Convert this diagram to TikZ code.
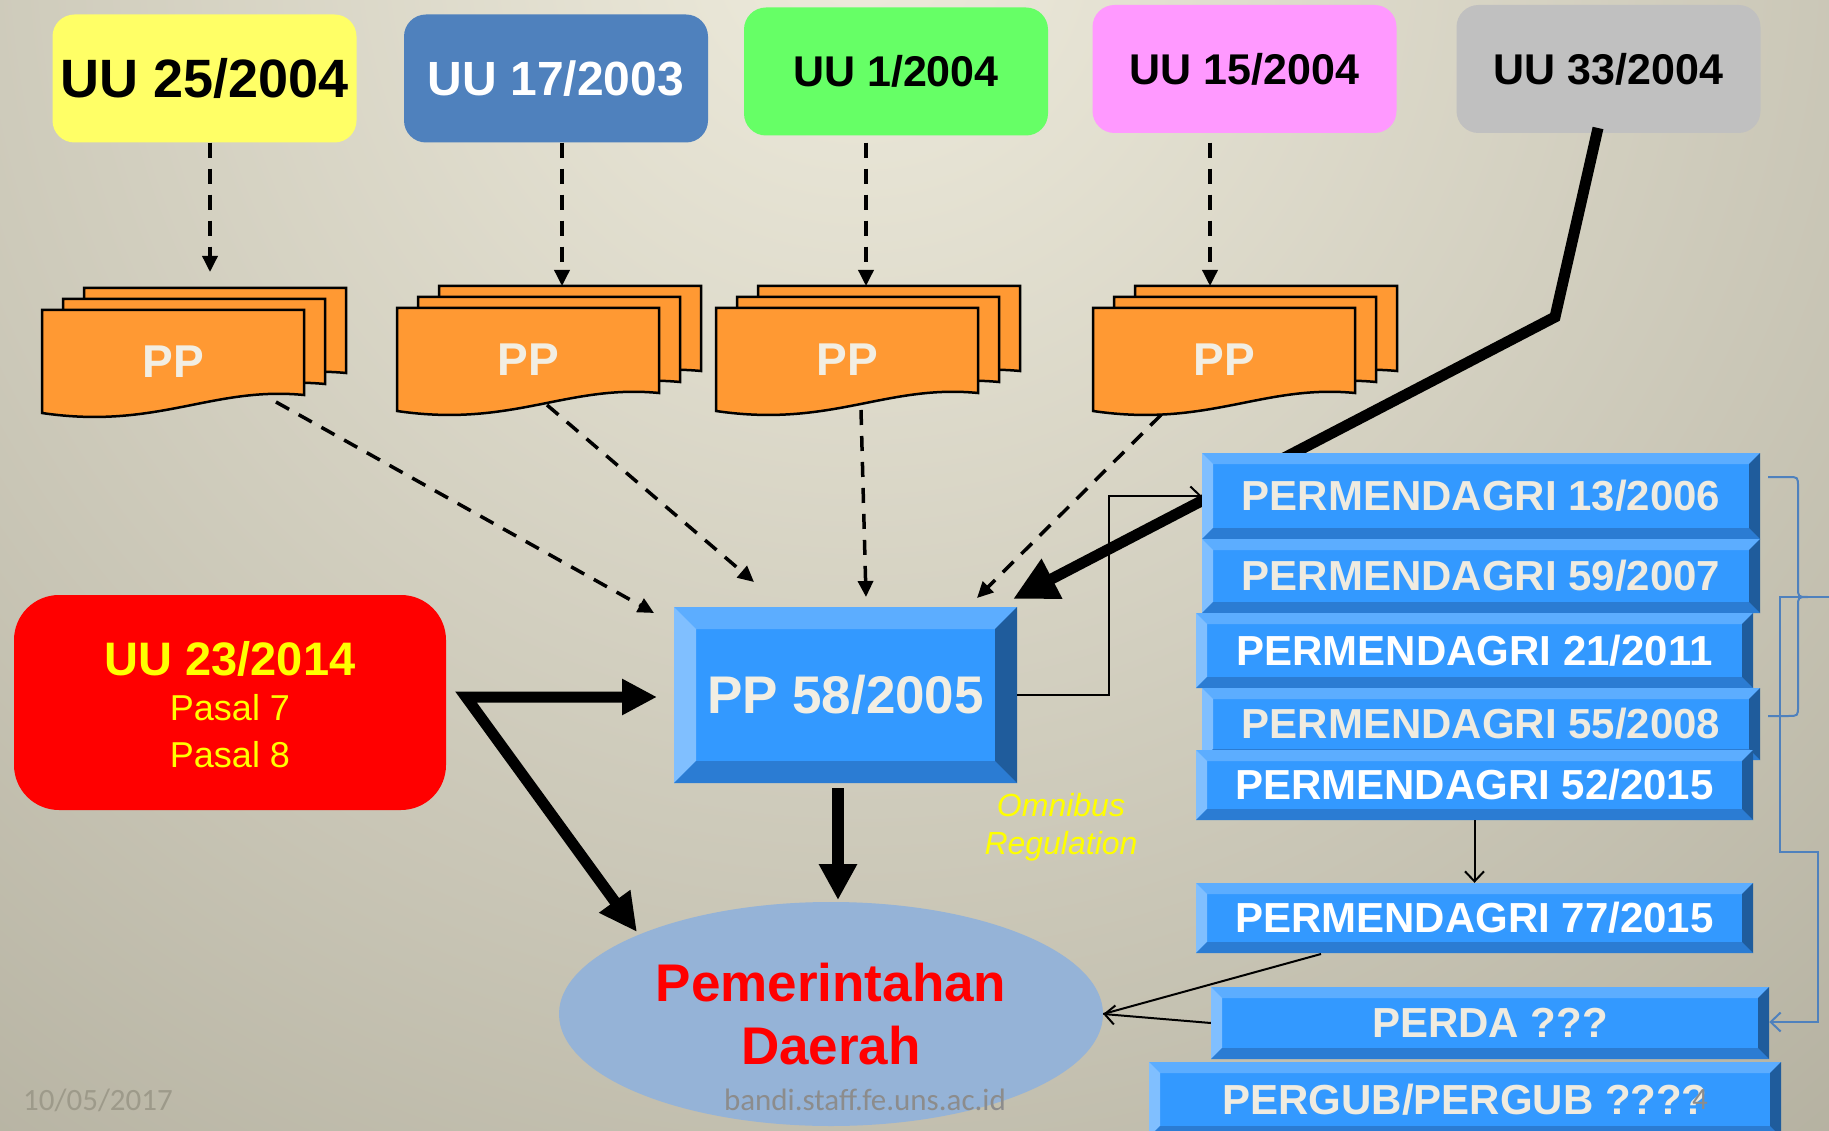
\documentclass[tikz,border=0pt]{standalone}
\usepackage{fontspec}
\setmainfont{Liberation Sans}
\newfontfamily\calib{Carlito}
\usetikzlibrary{arrows.meta,shapes.geometric}
\definecolor{bgL}{HTML}{EEEBDC}
\definecolor{bgD}{HTML}{807C6A}
\definecolor{cYel}{HTML}{FFFF66}
\definecolor{cBlu}{HTML}{4F81BD}
\definecolor{cGrn}{HTML}{66FF66}
\definecolor{cPnk}{HTML}{FF99FF}
\definecolor{cGry}{HTML}{C0C0C0}
\definecolor{cOrg}{HTML}{FF9933}
\definecolor{ppW}{HTML}{F2EEE3}
\definecolor{bvFace}{HTML}{3399FF}
\definecolor{bvTop}{HTML}{5CADFF}
\definecolor{bvLeft}{HTML}{80BFFF}
\definecolor{bvBot}{HTML}{2B7CD3}
\definecolor{bvRight}{HTML}{1F5C9C}
\definecolor{cEll}{HTML}{95B3D7}
\definecolor{cream}{HTML}{EFEBE0}
\definecolor{brk}{HTML}{4F81BD}
\definecolor{dateC}{HTML}{9D9A8A}
\definecolor{urlC}{HTML}{8C8C8C}
\definecolor{yel}{HTML}{FFFF00}
\definecolor{rd}{HTML}{FF0000}
\newcommand{\fsz}[1]{\fontsize{#1}{#1}\selectfont}
\newcommand{\ppstack}[3]{%
  \foreach \dx/\dy in {42/22,21/11,0/0}{%
    \path[docshape] (#2+\dx,#3-\dy) -- (#2+\dx+262,#3-\dy) -- (#2+\dx+262,#3-\dy+85)
      .. controls (#2+\dx+170,#3-\dy+76) and (#2+\dx+115,#3-\dy+120) .. (#2+\dx,#3-\dy+103) -- cycle;
  }%
  \node[pptext] (#1) at (#2+131,#3+52) {PP};
}
\newcommand{\bevbox}[8]{%
  \fill[bvFace] (#2,#3) rectangle (#4,#5);
  \fill[bvTop] (#2,#3) -- (#4,#3) -- (#4-#6,#3+#6) -- (#2+#6,#3+#6) -- cycle;
  \fill[bvLeft] (#2,#3) -- (#2+#6,#3+#6) -- (#2+#6,#5-#6) -- (#2,#5) -- cycle;
  \fill[bvBot] (#2,#5) -- (#2+#6,#5-#6) -- (#4-#6,#5-#6) -- (#4,#5) -- cycle;
  \fill[bvRight] (#4,#3) -- (#4,#5) -- (#4-#6,#5-#6) -- (#4-#6,#3+#6) -- cycle;
  \node[inner sep=0pt, text=#7, minimum width=#4pt-#2pt, minimum height=#5pt-#3pt] (#1) at ({(#2+#4)/2},{(#3+#5)/2}) {#8};
}
\begin{document}
\begin{tikzpicture}[x=1pt,y=-1pt,
  uubox/.style={rounded corners=22pt, minimum width=304pt, minimum height=128pt, inner sep=0pt},
  docshape/.style={fill=cOrg, draw=black, line width=2.5pt, line join=miter},
  pptext/.style={font=\fsz{46}\bfseries, text=ppW, inner sep=0pt},
  dasharr/.style={line width=3.5pt, dash pattern=on 15pt off 11pt, -{Triangle[length=16pt,width=15pt]}},
  bigarr/.style={line width=11pt, line join=miter, -{Triangle[length=36pt,width=36pt]}},
  thinarr/.style={line width=2pt, -{Straight Barb[length=10pt,width=19pt]}},
  lawtext/.style={font=\fsz{42}\bfseries}
]
\useasboundingbox (0,0) rectangle (1829,1131);
\begin{scope}
\clip (0,0) rectangle (1829,1131);
\shade[inner color=bgL, outer color=bgD] (860,-60) circle (3000pt);
\end{scope}

% top law boxes
\node[uubox, fill=cYel, text=black, font=\fsz{54}\bfseries] (uuA) at (204.5,78.5) {UU 25/2004};
\node[uubox, fill=cBlu, text=white, font=\fsz{48}\bfseries] (uuB) at (556,78.5) {UU 17/2003};
\node[uubox, fill=cGrn, text=black, font=\fsz{43}\bfseries] (uuC) at (896,71.5) {UU 1/2004};
\node[uubox, fill=cPnk, text=black, font=\fsz{43}\bfseries] (uuD) at (1244.5,69) {UU 15/2004};
\node[uubox, fill=cGry, text=black, font=\fsz{43}\bfseries] (uuE) at (1608.5,69) {UU 33/2004};

% PP stacks
\ppstack{ppA}{42}{310}
\ppstack{ppB}{397}{308}
\ppstack{ppC}{716}{308}
\ppstack{ppD}{1093}{308}

% arrow targets / sources
\coordinate (aA) at (210,272);
\coordinate (aB) at (562,286);
\coordinate (aC) at (866,286);
\coordinate (aD) at (1210,286);
\coordinate (oA) at (276,402);
\coordinate (oB) at (547,405);
\coordinate (oC) at (861,410);
\coordinate (oD) at (1161,415);
\coordinate (tA) at (654,613);
\coordinate (tB) at (754,582);
\coordinate (tC) at (866,597);
\coordinate (tD) at (977,598);

\draw[dasharr] (aA |- uuA.south) -- (aA);
\draw[dasharr] (aB |- uuB.south) -- (aB);
\draw[dasharr] (aC |- uuB.south) -- (aC);
\draw[dasharr] (aD |- uuB.south) -- (aD);
\draw[dasharr] (oA) -- (tA);
\draw[dasharr] (oB) -- (tB);
\draw[dasharr] (oC) -- (tC);
\draw[dasharr] (oD) -- (tD);

% red box
\node[rounded corners=45pt, fill=rd, minimum width=432pt, minimum height=215pt, inner sep=0pt] (uu23) at (230,702.5) {};
\node[font=\fsz{47}\bfseries, text=yel, inner sep=0pt] (t23) at (230,659) {UU 23/2014};
\node[font=\fsz{36}, text=yel, inner sep=0pt] (p7) at (230,708) {Pasal 7};
\node[font=\fsz{36}, text=yel, inner sep=0pt] (p8) at (230,755) {Pasal 8};

% PP 58/2005
\bevbox{pp58}{674}{607}{1017}{783}{22}{ppW}{\fsz{53}\bfseries PP 58/2005}

% ellipse
\node[ellipse, fill=cEll, minimum width=544pt, minimum height=224pt, inner sep=0pt, text=rd, align=center, font=\fontsize{53}{63}\selectfont\bfseries] (pd) at (831,1014) {Pemerintahan\\Daerah};

% thick arrows
\coordinate (fork) at (466,697);
\coordinate (tipH) at (657,697);
\coordinate (tipD) at (637,932);
\draw[line width=11pt, line join=miter, {Triangle[length=35pt,width=34pt]}-{Triangle[length=38pt,width=36pt]}] (tipH) -- (fork) -- (tipD);
\coordinate (tipV) at (838,900);
\draw[bigarr, line width=12pt, -{Triangle[length=36pt,width=36pt]}] (tipV |- pp58.south) ++(0,5) -- (tipV);

% UU 33 line
\coordinate (e33) at (1598,128);
\coordinate (k33) at (1555,317);
\coordinate (t33) at (1013,599);
\draw[line width=11pt, line join=miter, -{Triangle[length=44pt,width=42pt]}] (e33) -- (k33) -- (t33);

% permendagri boxes
\bevbox{pm13}{1202}{453}{1760}{539}{11}{cream}{\fsz{42}\bfseries PERMENDAGRI 13/2006}
\bevbox{pm59}{1202}{539}{1760}{613}{11}{cream}{\fsz{42}\bfseries PERMENDAGRI 59/2007}
\bevbox{pm21}{1196}{613}{1753}{688}{11}{white}{\fsz{42}\bfseries PERMENDAGRI 21/2011}
\bevbox{pm55}{1202}{688}{1760}{760}{11}{cream}{\fsz{42}\bfseries PERMENDAGRI 55/2008}
\bevbox{pm52}{1196}{750}{1753}{820}{11}{white}{\fsz{42}\bfseries PERMENDAGRI 52/2015}
\bevbox{pm77}{1196}{883}{1753}{953}{11}{white}{\fsz{42}\bfseries PERMENDAGRI 77/2015}
\bevbox{perda}{1211}{987}{1769}{1059}{11}{cream}{\fsz{42}\bfseries PERDA ???}
\bevbox{pergub}{1149}{1062}{1781}{1137}{11}{cream}{\fsz{42}\bfseries PERGUB/PERGUB ????}

% thin connectors
\draw[thinarr] (pp58.east) -- ++(92,0) |- (pm13.west);
\draw[thinarr] (pm52.south) -- (pm77.north);
\coordinate (e77) at (1321,954);
\draw[line width=2pt] (e77) -- (pd.east);
\draw[thinarr] (perda.west) -- (pd.east);

% blue brace and connector
\draw[brk, line width=2pt] (1768,477) -- (1788,477) .. controls (1798,477) .. (1798,487) -- (1798,587)
  .. controls (1798,597) .. (1808,597) .. controls (1798,597) .. (1798,607) -- (1798,706)
  .. controls (1798,716) .. (1788,716) -- (1768,716);
\coordinate (bt) at (1829,597);
\draw[brk, line width=2pt, -{Straight Barb[length=10pt,width=19pt]}] (bt) -- (1780,597) -- (1780,852) -- (1818,852) -- (1818,1022) -- (perda.east |- 0,1022);

% Omnibus
\node[font=\fontsize{32}{38}\selectfont\itshape, text=yel, align=center, inner sep=0pt] (omn) at (1061,827) {Omnibus\\Regulation};

% footer
\node[font=\calib\fsz{31}, text=dateC, inner sep=0pt] (dt) at (98,1100) {10/05/2017};
\node[font=\calib\fsz{31}, text=urlC, inner sep=0pt] (url) at (865,1100) {bandi.staff.fe.uns.ac.id};
\node[font=\calib\fsz{31}, text=urlC, inner sep=0pt] (pg) at (1700,1100) {4};
\end{tikzpicture}
\end{document}
